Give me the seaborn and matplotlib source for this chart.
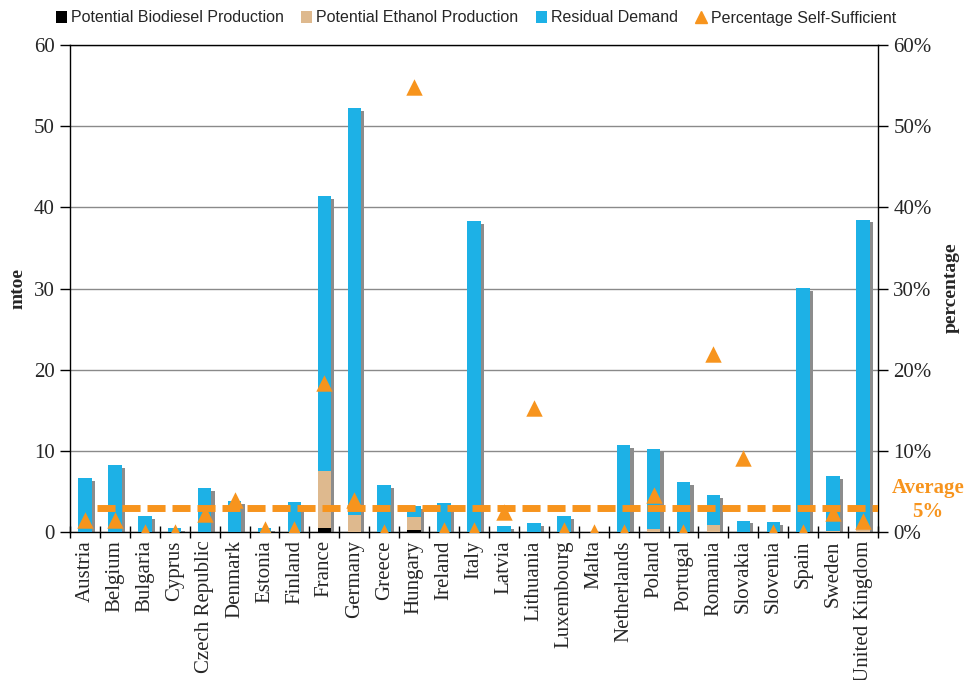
import numpy as np
import pandas as pd
import matplotlib
matplotlib.use("Agg")
import matplotlib.pyplot as plt
from matplotlib.patches import Patch
from matplotlib.lines import Line2D
from matplotlib.ticker import FuncFormatter, MultipleLocator, FixedLocator
import seaborn as sns

countries = ["Austria", "Belgium", "Bulgaria", "Cyprus", "Czech Republic", "Denmark",
             "Estonia", "Finland", "France", "Germany", "Greece", "Hungary", "Ireland",
             "Italy", "Latvia", "Lithuania", "Luxembourg", "Malta", "Netherlands",
             "Poland", "Portugal", "Romania", "Slovakia", "Slovenia", "Spain", "Sweden",
             "United Kingdom"]

# mtoe
biodiesel = [0.0, 0.0, 0.0, 0.0, 0.0, 0.0, 0.0, 0.0, 0.5, 0.0, 0.0, 0.2, 0.0,
             0.0, 0.0, 0.0, 0.0, 0.0, 0.0, 0.0, 0.0, 0.0, 0.0, 0.0, 0.0, 0.0, 0.0]
ethanol = [0.0, 0.0, 0.0, 0.0, 0.0, 0.0, 0.0, 0.0, 7.0, 2.1, 0.0, 1.7, 0.0,
           0.0, 0.0, 0.0, 0.0, 0.0, 0.0, 0.4, 0.0, 0.9, 0.0, 0.0, 0.0, 0.1, 0.55]
residual = [6.6, 8.2, 2.0, 0.5, 5.4, 3.8, 0.5, 3.7, 33.9, 50.1, 5.8, 1.3, 3.6,
            38.3, 0.75, 1.15, 2.0, 0.0, 10.7, 9.8, 6.1, 3.6, 1.4, 1.2, 30.1, 6.8,
            37.95]

# percent
self_sufficient = [1.5, 1.5, 0.0, 0.0, 2.2, 3.9, 0.4, 0.4, 18.3, 4.0, 0.0, 54.8, 0.2,
                   0.2, 2.5, 15.3, 0.2, 0.0, 0.0, 4.6, 0.0, 21.9, 9.1, 0.0, 0.0, 2.3,
                   1.4]
average_pct = 3.0

BLUE = "#1DB1E6"
TAN = "#DEB98E"
BLACK = "#000000"
ORANGE = "#F7941D"
SHADOW = "#8C8C8C"

df = pd.DataFrame({"country": countries, "bio": biodiesel, "eth": ethanol,
                   "res": residual, "pct": self_sufficient})
df["eth_top"] = df["bio"] + df["eth"]
df["total"] = df["eth_top"] + df["res"]

sns.set_theme(style="white")
plt.rcParams["font.family"] = ["Liberation Serif", "DejaVu Serif"]

fig = plt.figure(figsize=(9.65, 6.8), dpi=100)
ax = fig.add_axes([70 / 965, 1 - 532 / 680, 808 / 965, 487 / 680])

x = np.arange(len(countries))
bw = 0.45

# drop shadow behind each stacked column
ax.bar(x + 0.11, np.maximum(df["total"] - 0.35, 0), width=bw, color=SHADOW,
       linewidth=0, zorder=2)

sns.barplot(data=df, x="country", y="total", color=BLUE, width=bw, saturation=1,
            ax=ax, zorder=3, linewidth=0)
sns.barplot(data=df, x="country", y="eth_top", color=TAN, width=bw, saturation=1,
            ax=ax, zorder=3, linewidth=0)
sns.barplot(data=df, x="country", y="bio", color=BLACK, width=bw, saturation=1,
            ax=ax, zorder=3, linewidth=0)

ax.set_xlim(-0.5, len(countries) - 0.5)
ax.set_ylim(0, 60)
ax.yaxis.set_major_locator(MultipleLocator(10))
ax.grid(axis="y", color="#8a8a8a", linewidth=1.0, zorder=1)
ax.grid(axis="x", visible=False)
ax.set_axisbelow(True)
for side in ["left", "bottom", "top", "right"]:
    ax.spines[side].set_visible(True)
    ax.spines[side].set_color("black")
    ax.spines[side].set_linewidth(1.0)

ax.tick_params(axis="y", direction="out", length=7, width=1, color="black",
               labelsize=15, left=True, pad=4)
ax.set_xticks(x)
ax.set_xticklabels(countries, rotation=90, fontsize=15)
ax.tick_params(axis="x", which="major", length=0, pad=6)
ax.xaxis.set_minor_locator(FixedLocator(np.arange(-0.5, len(countries), 1.0)))
ax.tick_params(axis="x", which="minor", direction="inout", length=8, width=1,
               color="black", bottom=True)

ax2 = ax.twinx()

# average line across the countries
ax2.plot([0.4, len(countries) - 0.5], [average_pct, average_pct], color=ORANGE,
         linewidth=5, linestyle=(0, (2.6, 1.0)), solid_capstyle="butt",
         dash_capstyle="butt", zorder=4)

sns.scatterplot(data=df, x=x, y="pct", marker="^", s=140, color=ORANGE,
                edgecolor=ORANGE, linewidth=0, ax=ax2, zorder=5, legend=False)

ax2.set_xlim(-0.5, len(countries) - 0.5)
ax2.set_ylim(0, 60)
ax2.yaxis.set_major_locator(MultipleLocator(10))
ax2.yaxis.set_major_formatter(FuncFormatter(lambda v, p: f"{v:.0f}%"))
ax2.tick_params(axis="y", direction="out", length=7, width=1, color="black",
                labelsize=15, right=True, pad=4)
ax2.grid(False)
for side in ["left", "bottom", "top", "right"]:
    ax2.spines[side].set_visible(False)

ax.set_xlabel("")
ax.set_ylabel("")
ax2.set_xlabel("")
ax2.set_ylabel("")

fig.text(18 / 965, 1 - 288 / 680, "mtoe", fontsize=14, fontweight="bold",
         rotation=90, ha="center", va="center")
fig.text(951 / 965, 1 - 288 / 680, "percentage", fontsize=14, fontweight="bold",
         rotation=90, ha="center", va="center")

fig.text(928 / 965, 1 - 488 / 680, "Average", color=ORANGE, fontsize=15,
         fontweight="bold", ha="center", va="center")
fig.text(928 / 965, 1 - 512 / 680, "5%", color=ORANGE, fontsize=15,
         fontweight="bold", ha="center", va="center")

handles = [
    Patch(facecolor=BLACK, edgecolor="none", label="Potential Biodiesel Production"),
    Patch(facecolor=TAN, edgecolor="none", label="Potential Ethanol Production"),
    Patch(facecolor=BLUE, edgecolor="none", label="Residual Demand"),
    Line2D([], [], marker="^", color=ORANGE, linestyle="none", markersize=9,
           label="Percentage Self-Sufficient"),
]
fig.legend(handles=handles, loc="center", bbox_to_anchor=(476 / 965, 1 - 18 / 680),
           ncol=4, frameon=False, handlelength=0.7, handleheight=0.7,
           handletextpad=0.25, columnspacing=1.1,
           prop={"family": ["Liberation Sans Narrow", "Liberation Sans"], "size": 11.5})

fig.savefig("out.png", dpi=100)
